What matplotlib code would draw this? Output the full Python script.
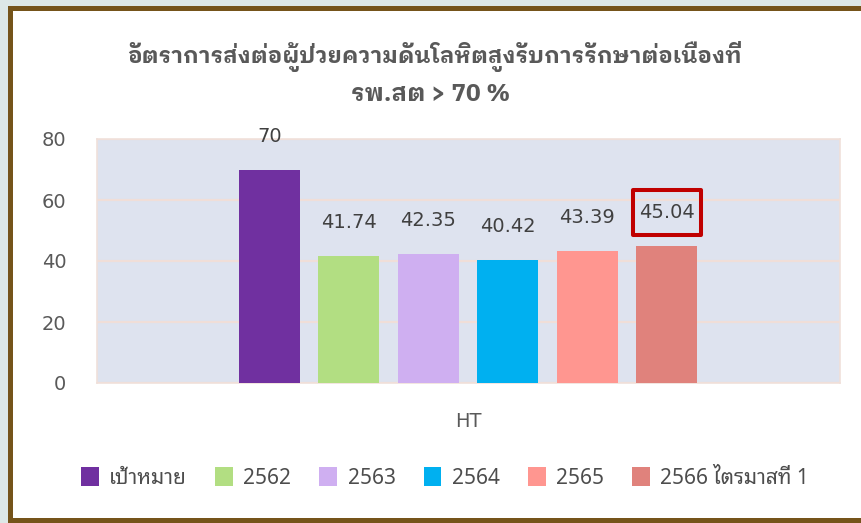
import matplotlib
matplotlib.use("Agg")
import matplotlib.pyplot as plt
from matplotlib.patches import Rectangle
from matplotlib.font_manager import FontProperties

# data
categories = ["เป้าหมาย", "2562", "2563", "2564", "2565", "2566 ไตรมาสที่ 1"]
values = [70, 41.74, 42.35, 40.42, 43.39, 45.04]
colors = ["#7030A0", "#B2DE82", "#CFAFF1", "#00B0F0", "#FF9690", "#E0827C"]
yticks = [0, 20, 40, 60, 80]
title1 = "อัตราการส่งต่อผู้ป่วยความดันโลหิตสูงรับการรักษาต่อเนื่องที่"
title2 = "รพ.สต > 70 %"
group_label = "HT"

thai = ["Noto Sans Thai Looped", "DejaVu Sans"]
thai_bold = ["IBM Plex Sans Thai Looped", "DejaVu Sans"]
W, H = 862, 523

fig = plt.figure(figsize=(W / 100, H / 100), dpi=100, facecolor="#dde8e6")

# brown frame around the chart area
frame = Rectangle((10.5 / W, 1 - 520 / H), (880 - 10.5) / W, (520 - 7.5) / H,
                  transform=fig.transFigure, facecolor="white",
                  edgecolor="#75541a", linewidth=3.6, zorder=-5)
fig.patches.append(frame)

ax = fig.add_axes([97 / W, 1 - 383 / H, (840 - 97) / W, (383 - 139) / H])
ax.set_zorder(2)
ax.set_facecolor("#dee3ef")

x = list(range(len(values)))
bars = ax.bar(x, values, width=0.77, color=colors, zorder=3, label=categories)

for xi, v in zip(x, values):
    ax.annotate(f"{v:g}", (xi, v), xytext=(0, 24), textcoords="offset points",
                ha="center", va="center", fontsize=14, color="#404040",
                family="DejaVu Sans", zorder=5)

# red highlight box around the latest value
last = values[-1]
box = Rectangle((x[-1] - 0.428, last + 3.5), 0.856, 14.8, fill=False,
                edgecolor="#c00000", linewidth=2.9, joinstyle="round",
                zorder=6, clip_on=False)
ax.add_patch(box)

ax.set_xlim(-2.17, 7.18)
ax.set_ylim(0, 80)
ax.set_yticks(yticks)
ax.set_xticks([])
ax.tick_params(axis="y", length=0, pad=22, labelsize=14, labelcolor="#595959")
ax.grid(axis="y", color="#f0ded8", linewidth=1.6, zorder=1)
for s in ax.spines.values():
    s.set_color("#f0e0da")
    s.set_linewidth(1.2)

ax.text(0.5, -0.156, group_label, transform=ax.transAxes, ha="center",
        va="center", fontsize=14, color="#595959", family="DejaVu Sans")

fig.text(434 / W, 1 - 63 / H, title1, ha="center", va="baseline",
         fontsize=16.2, fontweight="bold", color="#595959", family=thai_bold)
fig.text(431 / W, 1 - 101 / H, title2, ha="center", va="baseline",
         fontsize=17.5, fontweight="bold", color="#595959", family=thai_bold)

leg = fig.legend(handles=bars.patches, labels=categories, ncol=6, loc="center",
                 bbox_to_anchor=(445 / W, 1 - 478 / H), frameon=False,
                 prop=FontProperties(family=thai, size=15),
                 handlelength=0.85, handleheight=1.0, handletextpad=0.5,
                 columnspacing=1.35, labelcolor="#4d4d4d")

fig.savefig("out.png", dpi=100, facecolor=fig.get_facecolor())
